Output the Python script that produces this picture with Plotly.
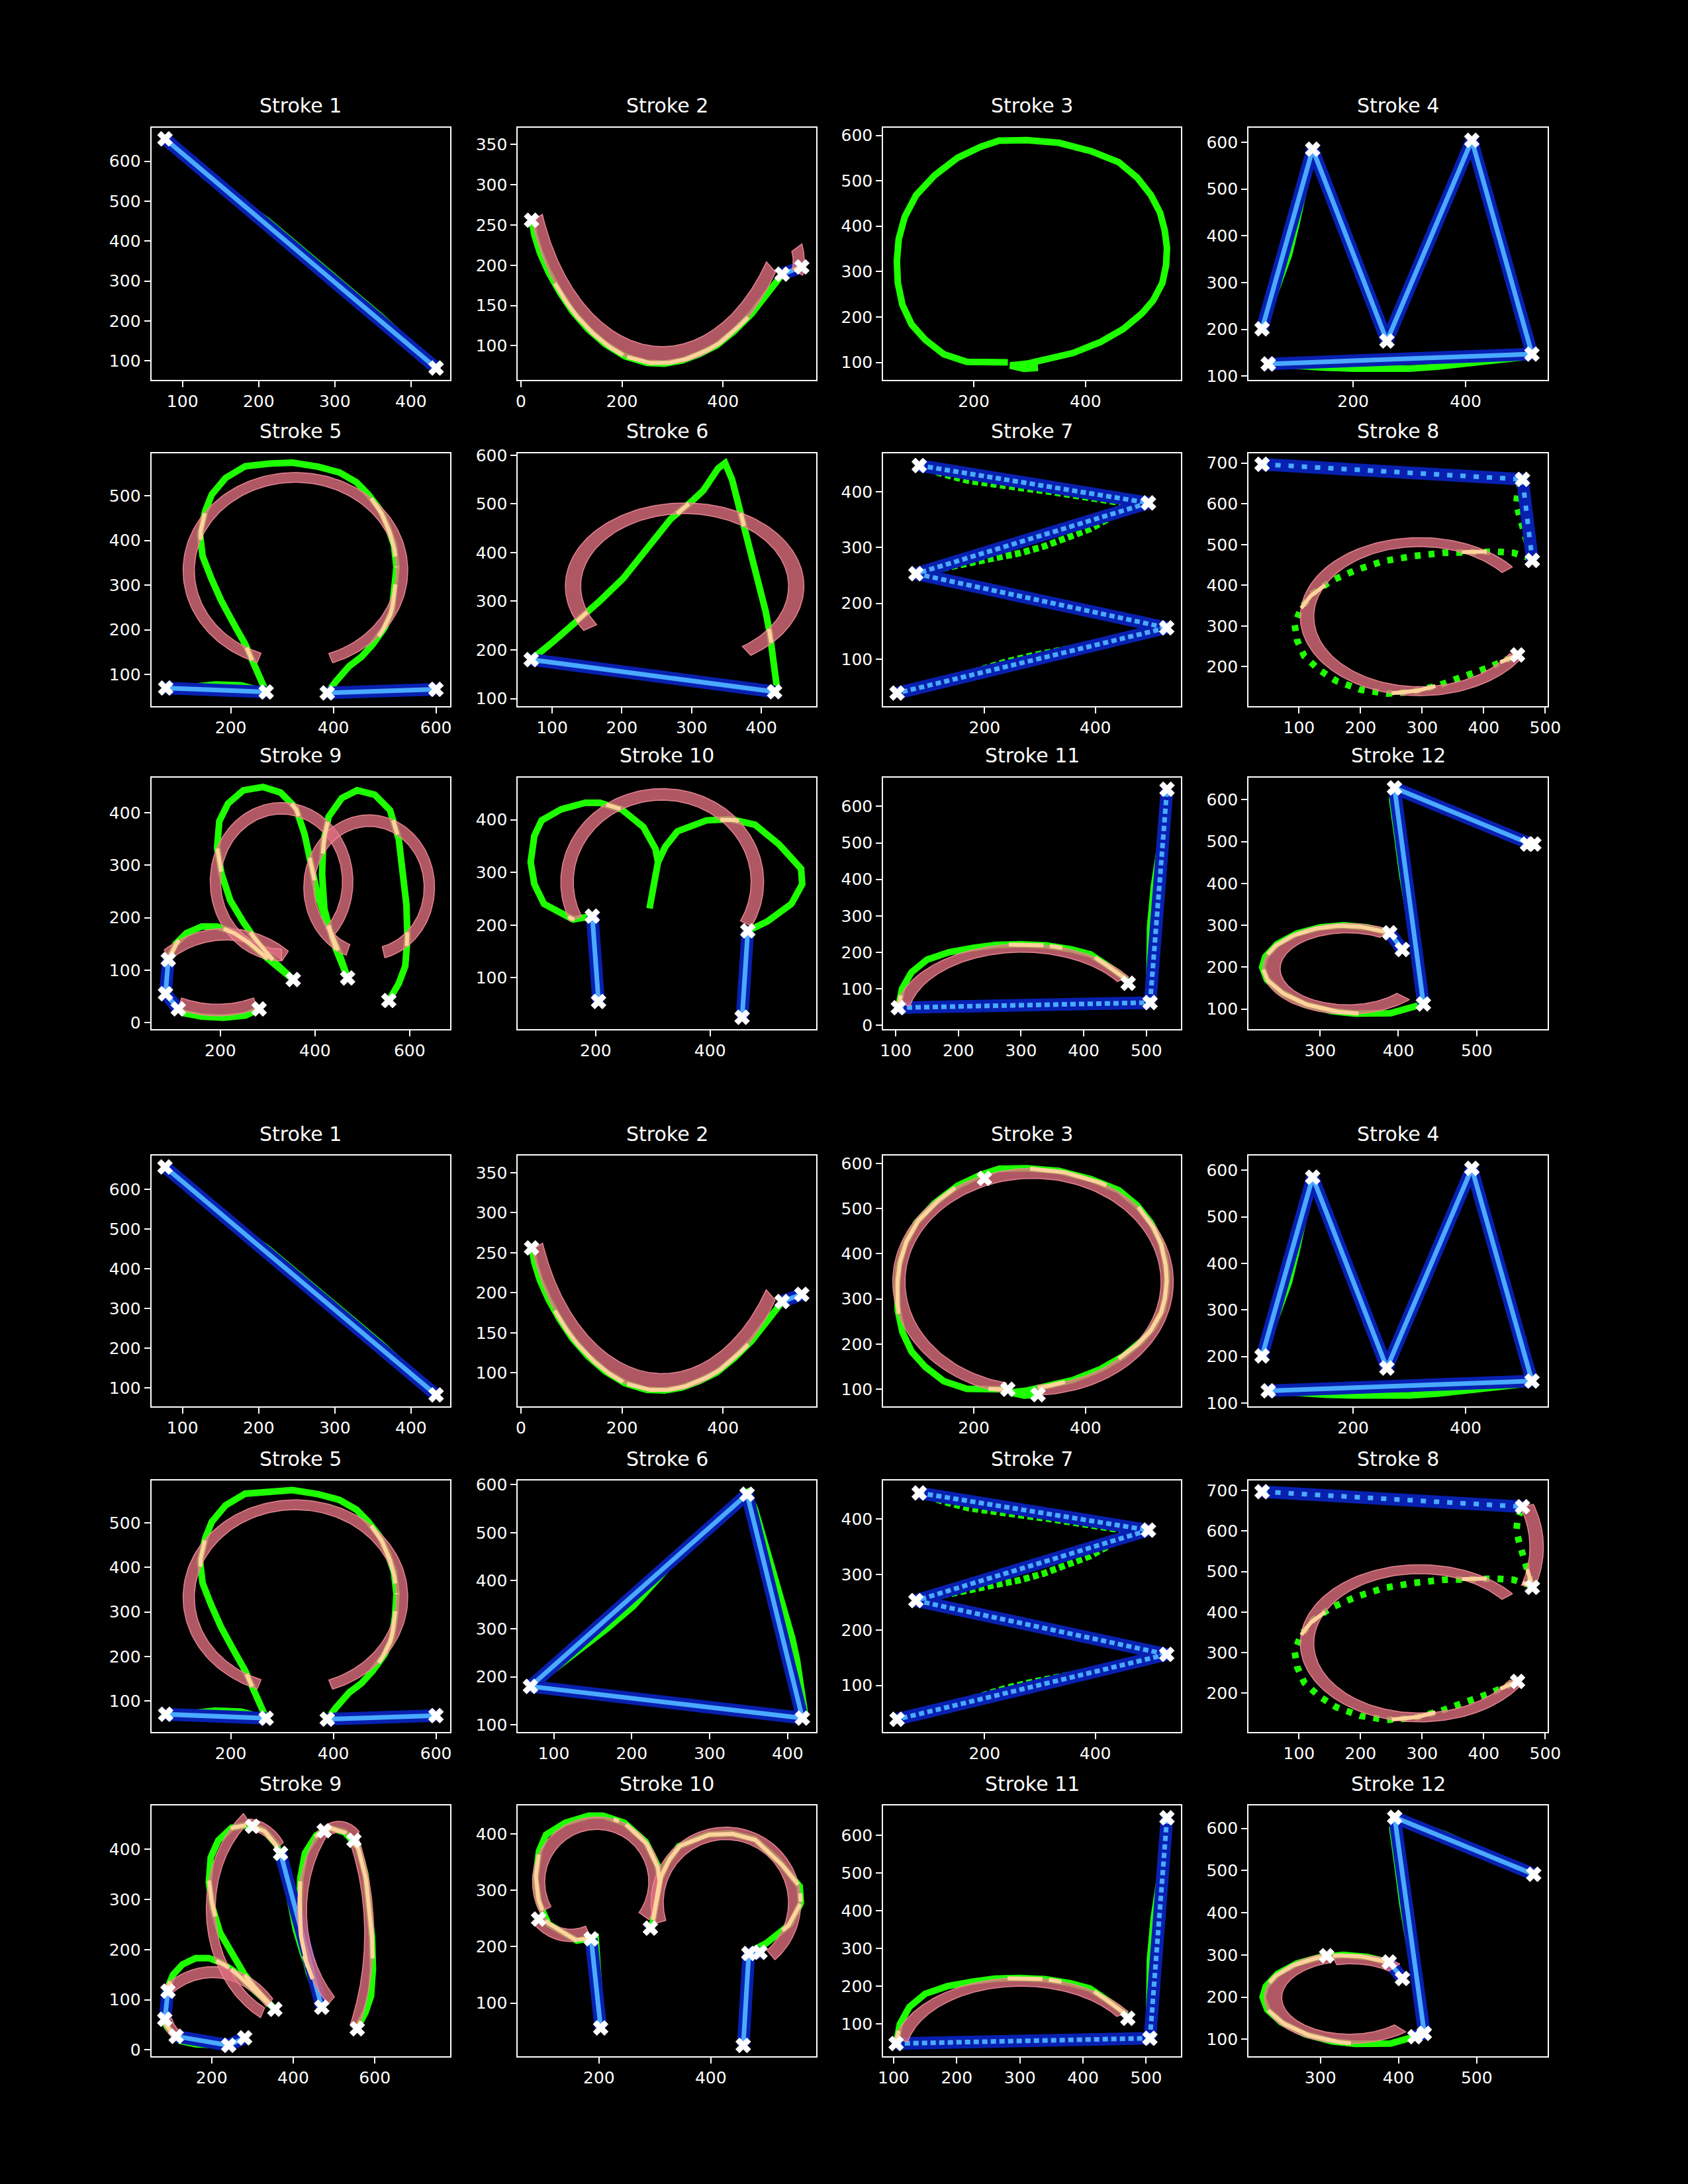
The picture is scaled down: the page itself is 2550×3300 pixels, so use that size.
import numpy as np
import plotly.graph_objects as go

# ---------------- figure geometry (pixels) ----------------
FIG_W, FIG_H = 2550, 3300
COL_LEFT = [223, 783, 1341, 1899]
COL_RIGHT = [679, 1239, 1796, 2356]
ROW_TOP = [183, 678, 1171, 1746, 2240, 2734]
ROW_BOTTOM = [566, 1062, 1553, 2127, 2622, 3115]

# ---------------- colours / styles ----------------
C_RAW = "#1eff00"
C_LINE = "#0820b0"
C_LINEPTS = "#4aaaff"
C_ARC = "rgba(226,112,128,0.78)"
C_ARC_EDGE = "rgba(240,140,152,0.9)"
C_PEACH = "#ffd39c"
ARC_W = 22  # band width of fitted arcs (data units)
FONT = "DejaVu Sans"

# ---------------- raw strokes (same input for both result sets) ----------------
S1_X = [77, 130, 180, 211, 260, 312, 360, 400, 433]
S1_Y = [656, 572, 494, 452, 374, 292, 212, 142, 82]

S2_X = [21.5, 26.7, 37.5, 54.8, 76.4, 102.3, 132.6, 167.1, 206, 249.2, 283.8, 318.3, 352.9, 387.5, 422, 456.6, 486.8, 517.1, 556]
S2_Y = [255.9, 237.4, 215.7, 191.3, 166.9, 142.5, 120.8, 101.8, 86.9, 78.8, 77.9, 81.5, 89.6, 100.5, 118.1, 139.8, 164.2, 188.6, 198.1]

S3_X = [261, 187.6, 146.4, 113.5, 88.8, 72.3, 64.1, 62.4, 65.7, 76.4, 97, 129.9, 171.1, 212.3, 245.2, 294.6, 352.2, 409.9, 459.3, 492.2, 516.9, 533.3, 541.6, 545.7, 544.1, 537.4, 521, 500.5, 467.5, 426.3, 377, 327.6, 295, 265, 290, 315]
S3_Y = [100, 101, 117.9, 149.3, 183.2, 226.7, 275, 323.4, 371.8, 420.1, 468.5, 512, 550.7, 574.9, 588.4, 589.4, 583.6, 565.2, 541, 507.2, 468.5, 429.8, 391.1, 352.4, 313.7, 275, 236.3, 207.3, 173.5, 144.5, 120.3, 105.8, 97, 93, 86, 88]

S4_X = [38, 62, 86, 100, 113, 128, 160, 195, 230, 260, 290, 330, 370, 411, 440, 470, 495, 518, 500, 450, 400, 350, 300, 250, 200, 150, 100, 49]
S4_Y = [201, 280, 360, 430, 500, 585, 480, 370, 265, 175, 265, 380, 490, 604, 480, 350, 250, 147, 140, 133, 126, 120, 116, 115, 116, 118, 121, 126]

S5_X = [73, 120, 170, 220, 269, 248, 228, 205, 181, 162, 145, 140, 150, 163, 190, 228, 275, 320, 370, 412, 445, 468, 490, 505, 518, 523, 520, 514, 500, 477, 455, 431, 405, 388, 430, 480, 540, 600]
S5_Y = [70, 72, 78, 76, 61, 115, 168, 215, 266, 315, 365, 414, 465, 503, 540, 566, 572, 574, 565, 552, 530, 503, 470, 434, 390, 340, 290, 242, 205, 168, 140, 119, 85, 59, 62, 63, 65, 67]

S6_X = [419, 360, 300, 200, 130, 70, 100, 134, 168, 202, 236, 270, 300, 317, 338, 348, 358, 368, 378, 388, 399, 406, 412, 418, 422]
S6_Y = [114, 124, 134, 155, 170, 180, 215, 257, 300, 347, 410, 469, 505, 528, 573, 584, 550, 495, 438, 380, 325, 280, 235, 180, 126]

S7_X = [82, 124.9, 171.3, 222, 272.5, 319, 369.7, 411.8, 445.6, 496, 433, 390.7, 348.5, 306.3, 264.2, 222, 179.8, 137.6, 76, 150, 250, 350, 450, 529, 450, 380, 289.4, 238.9, 188.2, 140, 90, 42]
S7_Y = [447, 431.5, 419.7, 411.8, 405.9, 400, 392.2, 386.3, 380.4, 380, 356.8, 333.2, 317.4, 301.7, 290, 282, 274.3, 264.4, 253, 236, 214, 192, 172, 156, 138, 124, 107.1, 95.3, 79.6, 66, 52, 39]

S8_X = [40, 150, 250, 350, 463, 455, 453, 458, 465, 472, 479, 472.8, 447.9, 421.3, 380.6, 334.6, 285, 237.1, 192.8, 153.9, 122, 102.5, 92.9, 97.2, 108.5, 132.6, 160.2, 199.9, 242.4, 285, 329.3, 370, 409, 437.3, 455]
S8_Y = [697, 690, 683, 673, 660, 630, 600, 570, 535, 500, 461, 467.8, 479.7, 482.4, 482.4, 479.7, 471.6, 459.2, 437.6, 412.2, 379.8, 342, 302.6, 263.7, 225.9, 192.4, 165.4, 143.8, 134.1, 138.4, 155.7, 177.3, 199, 217.8, 229]

S9_X = [282, 253.3, 206.9, 160.7, 123.7, 111, 91.4, 84, 86.8, 90, 105.2, 128.4, 160.7, 193.1, 220.8, 253.3, 285.6, 317.9, 354, 318, 281, 248.6, 220.8, 202.4, 193.1, 197.8, 216.2, 248.6, 290.2, 327.2, 359.5, 378.1, 392, 405.9, 424.3, 447.5, 469, 438.2, 419.8, 415, 417.4, 428.9, 456.7, 489.1, 526, 558.5, 576.9, 586.2, 593.2, 595.4, 590.8, 576.9, 556]
S9_Y = [26, 13.4, 9.2, 11.3, 17.6, 26, 44.8, 55, 82.5, 120, 149.6, 170.4, 183, 183, 174.7, 157.9, 132.7, 107.6, 82, 112, 149.6, 191.4, 233.2, 283.5, 333.8, 384, 417.6, 442.7, 449, 438.6, 409.2, 358.9, 300.4, 241.7, 191.4, 141.1, 85, 153.7, 216.5, 283.5, 342.2, 392.5, 428, 442.7, 434.3, 405, 350.6, 287.8, 225, 162.1, 107.6, 74.2, 42]

S10_X = [205, 200, 194, 160.6, 109.7, 92.7, 86.3, 92.7, 105.4, 139.4, 181.8, 207.1, 245.3, 283.4, 304.6, 308.9, 300.4, 294.1, 300.4, 308.9, 321.6, 342.8, 393.7, 436.1, 478.5, 520.9, 559.1, 561.1, 542.1, 499.7, 466, 461, 456]
S10_Y = [55, 140, 217, 210.7, 240.1, 277.7, 319.4, 369.5, 398.7, 419.7, 432.2, 432.2, 419.7, 386.2, 344.5, 319.4, 269.3, 231.7, 269.3, 319.4, 348.6, 377.9, 398.7, 400.9, 390.5, 352.9, 306.9, 277.7, 240.1, 206.6, 189, 110, 25]

S11_X = [471, 466, 448, 411, 380, 340, 299, 260, 224, 185, 150, 125, 110, 104, 150, 200, 250, 300, 350, 420, 506, 505, 506, 512, 522, 530, 533]
S11_Y = [115, 128, 152, 194, 208, 219, 222, 220, 212, 200, 180, 145, 100, 48, 46, 47, 50, 53, 58, 60, 62, 150, 270, 380, 480, 580, 647]

S12_X = [405, 389, 360, 330, 300, 270, 245, 230, 226, 232, 250, 280, 315, 345, 390, 420, 432, 425, 415, 405, 398, 392, 395, 420, 460, 500, 540, 569]
S12_Y = [242, 282, 295, 300, 295, 280, 255, 225, 200, 170, 140, 112, 95, 89, 90, 103, 112, 200, 300, 420, 520, 600, 628, 610, 585, 552, 516, 494]

RAW = {1: (S1_X, S1_Y), 2: (S2_X, S2_Y), 3: (S3_X, S3_Y), 4: (S4_X, S4_Y),
       5: (S5_X, S5_Y), 6: (S6_X, S6_Y), 7: (S7_X, S7_Y), 8: (S8_X, S8_Y),
       9: (S9_X, S9_Y), 10: (S10_X, S10_Y), 11: (S11_X, S11_Y), 12: (S12_X, S12_Y)}

# ---------------- axis ranges and ticks ----------------
T1_XR, T1_YR = [59, 451], [53, 684]
T2_XR, T2_YR = [-6, 585], [58, 371]
T3_XR, T3_YR = [38, 571], [62, 617]
T4_XR, T4_YR = [14, 546], [92.5, 631]
T5_XR, T5_YR = [45, 627], [30, 595]
T6_XR, T6_YR = [51, 479], [85, 604]
T7_XR, T7_YR = [17, 555], [16, 469]
T8_XR, T8_YR = [18, 504], [104, 724]
T9_XR, T9_YR = [54, 685], [-12, 467]
T10_XR, T10_YR = [64, 586], [3, 480]
T11_XR, T11_YR = [80, 555.5], [-10, 679]
T12_XR, T12_YR = [208.6, 590.8], [52.6, 652.7]

B6_XR, B6_YR = [54, 437], [85, 608]
B9_XR, B9_YR = [52, 784], [-13, 487]
B10_XR, B10_YR = [55, 589], [5.6, 450]
B11_XR, B11_YR = [83.6, 555.4], [14, 679]
B12_XR, B12_YR = [208, 591], [59.5, 653.5]

XT = {1: [100, 200, 300, 400], 2: [0, 200, 400], 3: [200, 400], 4: [200, 400],
      5: [200, 400, 600], 6: [100, 200, 300, 400], 7: [200, 400], 8: [100, 200, 300, 400, 500],
      9: [200, 400, 600], 10: [200, 400], 11: [100, 200, 300, 400, 500], 12: [300, 400, 500]}
YT = {1: [100, 200, 300, 400, 500, 600], 2: [100, 150, 200, 250, 300, 350],
      3: [100, 200, 300, 400, 500, 600], 4: [100, 200, 300, 400, 500, 600],
      5: [100, 200, 300, 400, 500], 6: [100, 200, 300, 400, 500, 600],
      7: [100, 200, 300, 400], 8: [200, 300, 400, 500, 600, 700],
      9: [0, 100, 200, 300, 400], 10: [100, 200, 300, 400],
      11: [0, 100, 200, 300, 400, 500, 600], 12: [100, 200, 300, 400, 500, 600]}

# ---------------- result set 1 (top block) ----------------
T1_LINES = [(77, 656, 433, 82)]
T1_ARCS = []
T1_MARKS = [(77, 656), (433, 82)]

T2_LINES = [(517, 189, 556, 198)]
T2_ARCS = [(280, 353, 265, 200.7, 324.2), (510, 205, 40, -20, 25)]
T2_MARKS = [(21, 256), (517, 189), (556, 198)]

T3_LINES, T3_ARCS, T3_MARKS = [], [], []

T4_LINES = [(38, 201, 128, 585), (128, 585, 260, 175), (260, 175, 411, 604), (411, 604, 518, 147), (518, 147, 49, 126)]
T4_ARCS = []
T4_MARKS = [(38, 201), (128, 585), (260, 175), (411, 604), (518, 147), (49, 126)]

T5_LINES = [(73, 70, 269, 61), (388, 59, 600, 67)]
T5_ARCS = [(326, 333, 208, -70.7, 250.1)]
T5_MARKS = [(73, 70), (269, 61), (388, 59), (600, 67)]

T6_LINES = [(70, 180, 419, 114)]
T6_ARCS = [(290, 331, 160, -56.3, 212.2)]
T6_MARKS = [(70, 180), (419, 114)]

T7_LINES = [(82, 447, 496, 380), (496, 380, 76, 253), (76, 253, 529, 156), (529, 156, 42, 39)]
T7_ARCS = []
T7_MARKS = [(82, 447), (496, 380), (76, 253), (529, 156), (42, 39)]

T8_LINES = [(40, 697, 463, 660), (463, 660, 479, 461)]
T8_ARCS = [(296, 323, 183, 39, 328.3)]
T8_MARKS = [(40, 697), (463, 660), (479, 461), (455, 229)]

T9_LINES = [(90, 120, 84, 55), (84, 55, 111, 26)]
T9_ARCS = [(194, 283.9, 260, -107.8, -72.1), (211, -46.6, 215, 54, 125),
           (329.3, 268.6, 139.8, -43.9, 270), (514.5, 257.7, 127.2, -76.2, 249.4)]
T9_MARKS = [(90, 120), (84, 55), (111, 26), (282, 26), (354, 82), (469, 85), (556, 42)]

T10_LINES = [(194, 217, 205, 55), (466, 189, 456, 25)]
T10_ARCS = [(316.3, 281.7, 166.4, -28.3, 204.8)]
T10_MARKS = [(194, 217), (205, 55), (466, 189), (456, 25)]

T11_LINES = [(104, 48, 506, 62), (506, 62, 533, 647)]
T11_ARCS = [(302, 17.2, 194, 34.1, 168.5)]
T11_MARKS = [(104, 48), (471, 115), (506, 62), (533, 647)]

T12_LINES = [(389, 282, 405, 242), (432, 112, 395, 628), (395, 628, 569, 494)]
T12_ARCS = [(335, 196, 97, 60.9, 317.1)]
T12_MARKS = [(395, 628), (565, 494), (573, 494), (432, 112), (389, 282), (405, 242)]

# ---------------- result set 2 (bottom block) ----------------
B2_LINES = [(517, 189, 556, 198)]
B2_ARCS = [(280, 353, 265, 201, 324)]
B2_MARKS = [(21, 256), (517, 189), (556, 198)]

B3_LINES = []
B3_ARCS = [(306, 338, 240, -88, 258)]
B3_MARKS = [(219, 567), (261, 100), (315, 88)]

B6_LINES = [(70, 180, 348, 580), (348, 580, 419, 114), (419, 114, 70, 180)]
B6_ARCS = []
B6_MARKS = [(70, 180), (348, 580), (419, 114)]

B8_LINES = [(40, 697, 463, 660)]
B8_ARCS = [(145, 560, 341, -16.5, 17.5), (296, 323, 183, 39, 328.3)]
B8_MARKS = [(40, 697), (463, 660), (479, 461), (455, 229)]

B9_LINES = [(93, 117, 85, 61), (113, 27, 242, 9), (242, 9, 281, 24), (369, 392, 470, 85)]
B9_ARCS = [(202.8, -34.4, 189.5, 42.7, 125.4), (150, 80, 62, 200, 236),
           (430.5, 281.4, 232.7, 128.7, 243), (285, 350, 100, 35, 85),
           (682.6, 277.4, 261, 142.3, 223.4), (512, 385, 60, 45, 120),
           (90.7, 231.5, 495.5, -21.7, 22.4)]
B9_MARKS = [(300, 446), (369, 392), (476, 437), (549, 418), (93, 117), (85, 61),
            (113, 27), (242, 9), (281, 24), (355, 81), (470, 85), (557, 42)]

B10_LINES = [(186, 214, 203, 56), (468, 188, 458, 25), (468, 188, 488, 190)]
B10_ARCS = [(196, 315, 104, -35.7, 208.2), (150, 295, 75, 218, 294), (427, 278, 123, -49, 196.3)]
B10_MARKS = [(92, 249), (186, 214), (203, 56), (292, 233), (468, 188), (488, 190), (458, 25)]

B12_LINES = [(388, 283, 405, 244), (433, 114, 395, 626), (395, 626, 573, 491), (421, 106, 433, 114)]
B12_ARCS = [(337, 198.5, 97.5, 106, 311.8), (340, 205, 85, 50, 105)]
B12_MARKS = [(395, 626), (573, 491), (308, 298), (388, 283), (405, 244), (421, 106), (433, 114)]

PANELS = [
    (1, T1_XR, T1_YR, T1_LINES, T1_ARCS, T1_MARKS),
    (2, T2_XR, T2_YR, T2_LINES, T2_ARCS, T2_MARKS),
    (3, T3_XR, T3_YR, T3_LINES, T3_ARCS, T3_MARKS),
    (4, T4_XR, T4_YR, T4_LINES, T4_ARCS, T4_MARKS),
    (5, T5_XR, T5_YR, T5_LINES, T5_ARCS, T5_MARKS),
    (6, T6_XR, T6_YR, T6_LINES, T6_ARCS, T6_MARKS),
    (7, T7_XR, T7_YR, T7_LINES, T7_ARCS, T7_MARKS),
    (8, T8_XR, T8_YR, T8_LINES, T8_ARCS, T8_MARKS),
    (9, T9_XR, T9_YR, T9_LINES, T9_ARCS, T9_MARKS),
    (10, T10_XR, T10_YR, T10_LINES, T10_ARCS, T10_MARKS),
    (11, T11_XR, T11_YR, T11_LINES, T11_ARCS, T11_MARKS),
    (12, T12_XR, T12_YR, T12_LINES, T12_ARCS, T12_MARKS),
    (1, T1_XR, T1_YR, T1_LINES, T1_ARCS, T1_MARKS),
    (2, T2_XR, T2_YR, B2_LINES, B2_ARCS, B2_MARKS),
    (3, T3_XR, T3_YR, B3_LINES, B3_ARCS, B3_MARKS),
    (4, T4_XR, T4_YR, T4_LINES, T4_ARCS, T4_MARKS),
    (5, T5_XR, T5_YR, T5_LINES, T5_ARCS, T5_MARKS),
    (6, B6_XR, B6_YR, B6_LINES, B6_ARCS, B6_MARKS),
    (7, T7_XR, T7_YR, T7_LINES, T7_ARCS, T7_MARKS),
    (8, T8_XR, T8_YR, B8_LINES, B8_ARCS, B8_MARKS),
    (9, B9_XR, B9_YR, B9_LINES, B9_ARCS, B9_MARKS),
    (10, B10_XR, B10_YR, B10_LINES, B10_ARCS, B10_MARKS),
    (11, B11_XR, B11_YR, T11_LINES, T11_ARCS, T11_MARKS),
    (12, B12_XR, B12_YR, B12_LINES, B12_ARCS, B12_MARKS),
]

RAW_DASH = {7: "9px,5px", 8: "9px,12px"}
PTS_DASH = {7: "8px,5px", 8: "8px,12px", 11: "8px,5px"}


def annulus(cx, cy, r, a0, a1, w):
    t = np.radians(np.linspace(a0, a1, 160))
    ro, ri = r + w / 2.0, r - w / 2.0
    xs = np.concatenate([cx + ro * np.cos(t), cx + ri * np.cos(t[::-1]), [cx + ro * np.cos(t[0])]])
    ys = np.concatenate([cy + ro * np.sin(t), cy + ri * np.sin(t[::-1]), [cy + ro * np.sin(t[0])]])
    return xs, ys


def in_band(x, y, arcs, w):
    for (cx, cy, r, a0, a1) in arcs:
        d = np.hypot(x - cx, y - cy)
        if abs(d - r) <= w / 2.0:
            ang = np.degrees(np.arctan2(y - cy, x - cx))
            if (ang - a0) % 360.0 <= (a1 - a0):
                return True
    return False


def band_overlap(xs, ys, arcs, w):
    """Parts of the raw stroke that run underneath a fitted arc band."""
    px, py = [], []
    prev = False
    for i in range(len(xs) - 1):
        x0, y0, x1, y1 = xs[i], ys[i], xs[i + 1], ys[i + 1]
        n = max(2, int(np.hypot(x1 - x0, y1 - y0) / 2.0))
        for t in np.linspace(0.0, 1.0, n, endpoint=False):
            x = x0 + t * (x1 - x0)
            y = y0 + t * (y1 - y0)
            ins = in_band(x, y, arcs, w)
            if ins:
                px.append(x)
                py.append(y)
            elif prev:
                px.append(None)
                py.append(None)
            prev = ins
    return px, py


fig = go.Figure()
layout = {}
annotations = []

for idx, (sid, xr, yr, lines, arcs, marks) in enumerate(PANELS):
    k = idx + 1
    row, col = idx // 4, idx % 4
    l, r = COL_LEFT[col], COL_RIGHT[col]
    t, b = ROW_TOP[row], ROW_BOTTOM[row]
    xa = "x" if k == 1 else f"x{k}"
    ya = "y" if k == 1 else f"y{k}"
    xkey = "xaxis" if k == 1 else f"xaxis{k}"
    ykey = "yaxis" if k == 1 else f"yaxis{k}"

    axis_common = dict(showgrid=False, zeroline=False, showline=True, mirror=True,
                       linecolor="white", linewidth=2, ticks="outside", ticklen=9,
                       tickwidth=2, tickcolor="white",
                       tickfont=dict(family=FONT, size=25, color="white"))
    layout[xkey] = dict(domain=[l / FIG_W, r / FIG_W], range=xr, anchor=ya,
                        tickmode="array", tickvals=XT[sid], **axis_common)
    layout[ykey] = dict(domain=[1 - b / FIG_H, 1 - t / FIG_H], range=yr, anchor=xa,
                        tickmode="array", tickvals=YT[sid], **axis_common)

    sx, sy = RAW[sid]
    # raw stroke
    fig.add_trace(go.Scatter(x=sx, y=sy, mode="lines", xaxis=xa, yaxis=ya,
                             line=dict(color=C_RAW, width=10, dash=RAW_DASH.get(sid, "solid")),
                             hoverinfo="skip"))
    # fitted line segments
    if lines:
        lx, ly = [], []
        for (x0, y0, x1, y1) in lines:
            lx += [x0, x1, None]
            ly += [y0, y1, None]
        fig.add_trace(go.Scatter(x=lx, y=ly, mode="lines", xaxis=xa, yaxis=ya,
                                 line=dict(color=C_LINE, width=19), hoverinfo="skip"))
        fig.add_trace(go.Scatter(x=lx, y=ly, mode="lines", xaxis=xa, yaxis=ya,
                                 line=dict(color=C_LINEPTS, width=7, dash=PTS_DASH.get(sid, "solid")),
                                 hoverinfo="skip"))
    # fitted arcs
    for (cx, cy, rr, a0, a1) in arcs:
        ax_, ay_ = annulus(cx, cy, rr, a0, a1, ARC_W)
        fig.add_trace(go.Scatter(x=ax_, y=ay_, mode="lines", fill="toself", fillcolor=C_ARC,
                                 xaxis=xa, yaxis=ya, line=dict(color=C_ARC_EDGE, width=1.5),
                                 hoverinfo="skip"))
    if arcs:
        px, py = band_overlap(sx, sy, arcs, ARC_W)
        if px:
            fig.add_trace(go.Scatter(x=px, y=py, mode="lines", xaxis=xa, yaxis=ya,
                                     line=dict(color=C_PEACH, width=6), hoverinfo="skip"))
    # break points
    if marks:
        fig.add_trace(go.Scatter(x=[m[0] for m in marks], y=[m[1] for m in marks], mode="markers",
                                 xaxis=xa, yaxis=ya,
                                 marker=dict(symbol="x", size=20, color="white",
                                             line=dict(color="white", width=1)),
                                 hoverinfo="skip"))

    annotations.append(dict(text=f"Stroke {sid}", x=(l + r) / 2 / FIG_W, y=1 - (t - 14) / FIG_H,
                            xref="paper", yref="paper", xanchor="center", yanchor="bottom",
                            showarrow=False, font=dict(family=FONT, size=30, color="white")))

fig.update_layout(width=FIG_W, height=FIG_H, margin=dict(l=0, r=0, t=0, b=0),
                  paper_bgcolor="black", plot_bgcolor="black", showlegend=False,
                  annotations=annotations, **layout)

fig.write_html("out.html")
